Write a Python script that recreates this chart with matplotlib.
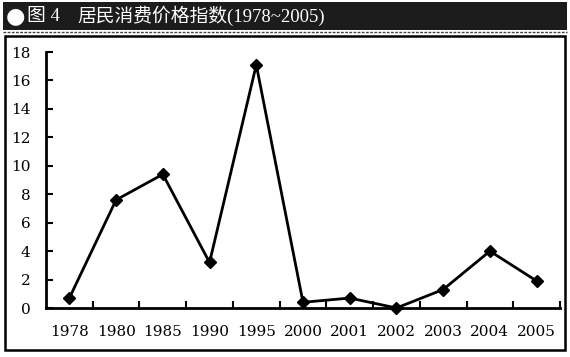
import matplotlib
matplotlib.use("Agg")
import matplotlib.pyplot as plt
from matplotlib.patches import Rectangle
from matplotlib.lines import Line2D

# data
years = ["1978", "1980", "1985", "1990", "1995", "2000", "2001", "2002", "2003", "2004", "2005"]
cpi = [0.7, 7.6, 9.4, 3.2, 17.1, 0.4, 0.7, 0.0, 1.3, 4.0, 1.9]
y_ticks = [0, 2, 4, 6, 8, 10, 12, 14, 16, 18]

W, H = 570, 357
fig = plt.figure(figsize=(W / 100, H / 100), dpi=100)

# dark title bar
fig.patches.append(Rectangle((3 / W, 1 - 30 / H), 564 / W, 28 / H, transform=fig.transFigure,
                             facecolor="#1c1c1c", edgecolor="none", zorder=0))
fig.lines.append(Line2D([3 / W, 567 / W], [1 - 32 / H, 1 - 32 / H], transform=fig.transFigure,
                        color="#444444", lw=1, ls=(0, (2, 1))))
fig.text(6 / W, 1 - 16 / H, "●", color="white", fontsize=16, va="center", ha="left",
         family="DejaVu Sans")
fig.text(27 / W, 1 - 16 / H, "图 4", color="white", fontsize=13.5, va="center", ha="left",
         family=["Liberation Serif", "Noto Sans CJK SC"])
fig.text(77 / W, 1 - 16 / H, "居民消费价格指数(1978~2005)", color="white", fontsize=13.5,
         va="center", ha="left", family=["Liberation Serif", "Noto Sans CJK SC"])

# outer frame of the chart
fig.patches.append(Rectangle((5 / W, 1 - 350 / H), 560 / W, 314 / H, transform=fig.transFigure,
                             facecolor="none", edgecolor="black", lw=1.8, zorder=1))

ax = fig.add_axes([46 / W, 1 - 308 / H, 514 / W, 256 / H])
x = list(range(len(years)))
ax.plot(x, cpi, color="black", lw=2, marker="D", markersize=6, clip_on=False, zorder=3)

ax.set_xlim(-0.5, len(years) - 0.5)
ax.set_ylim(0, 18)
ax.set_yticks(y_ticks)
ax.set_yticklabels([str(v) for v in y_ticks])

# ticks between categories, labels at centres
ax.set_xticks([i + 0.5 for i in range(len(years))])
ax.set_xticklabels([])
ax.set_xticks(x, minor=True)
ax.set_xticklabels(years, minor=True)
ax.tick_params(axis="x", which="major", direction="in", length=5, width=1.5)
ax.tick_params(axis="x", which="minor", length=0, pad=12)
ax.tick_params(axis="y", direction="in", length=5, width=1.5, pad=11)

for lab in ax.get_xticklabels(minor=True) + ax.get_yticklabels():
    lab.set_family("DejaVu Serif")
    lab.set_fontsize(11)

for s in ["top", "right"]:
    ax.spines[s].set_visible(False)
ax.spines["left"].set_linewidth(2)
ax.spines["bottom"].set_linewidth(2)

fig.savefig("out.png", dpi=100)
